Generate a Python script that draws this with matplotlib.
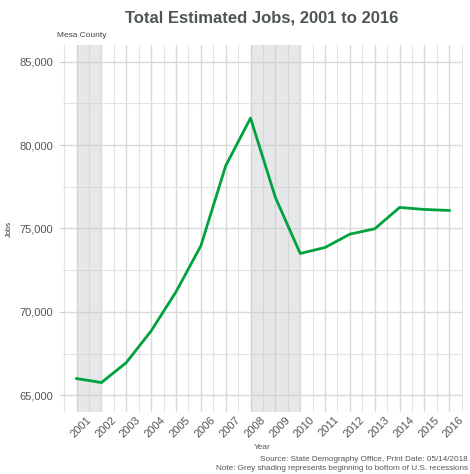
import numpy as np
import matplotlib
matplotlib.use('Agg')
from matplotlib import pyplot as plt
from matplotlib import transforms
from matplotlib.ticker import FuncFormatter, MultipleLocator

# 梅萨县总就业估计
years = [2001, 2002, 2003, 2004, 2005, 2006, 2007, 2008,
         2009, 2010, 2011, 2012, 2013, 2014, 2015, 2016]
jobs = [66000, 65760, 66960, 68860, 71200, 73960, 78760, 81620,
        76860, 73500, 73860, 74660, 74980, 76260, 76140, 76080]
recessions = [(2001, 2002), (2008, 2010)]

plt.rcParams['font.family'] = ['Liberation Sans', 'DejaVu Sans']

fig = plt.figure(figsize=(4.7, 4.74), dpi=100)
ax = fig.add_axes([0.134, 0.131, 0.851, 0.774])

for start, end in recessions:
    ax.axvspan(start, end, color='#c8cacd', alpha=0.45, lw=0, zorder=1)

ax.plot(years, jobs, color='#00a23e', lw=2.0, zorder=3)

ax.set_xlim(2000.45, 2016.55)
ax.set_ylim(64000, 86000)
ax.set_xticks(years)
ax.xaxis.set_minor_locator(MultipleLocator(0.5))
ax.yaxis.set_major_locator(MultipleLocator(5000))
ax.yaxis.set_minor_locator(MultipleLocator(2500))
ax.yaxis.set_major_formatter(FuncFormatter(lambda v, p: '{:,.0f}'.format(v)))

ax.grid(which='major', color='#d9d9d9', lw=1.0, zorder=0)
ax.grid(which='minor', color='#e3e3e3', lw=0.8, zorder=0)
ax.set_axisbelow(True)
for s in ax.spines.values():
    s.set_visible(False)

ax.tick_params(axis='y', which='major', colors='#d0d0d0', length=3, width=0.8,
               labelcolor='#555555', labelsize=8, pad=4)
ax.tick_params(axis='x', which='major', length=0, labelcolor='#555555',
               labelsize=8, pad=2)
ax.tick_params(which='minor', length=0)
# 标签稍微右移
shift = transforms.ScaledTranslation(3 / 72, 0, fig.dpi_scale_trans)
for lab in ax.get_xticklabels():
    lab.set_rotation(45)
    lab.set_ha('center')
    lab.set_va('top')
    lab.set_transform(lab.get_transform() + shift)

fig.text(0.021, 0.518, 'Jobs', rotation=90, ha='center', va='center',
         fontsize=5.5, color='#333333')
fig.text(0.558, 0.055, 'Year', ha='center', va='center',
         fontsize=6, color='#555555')

fig.text(0.557, 0.961, 'Total Estimated Jobs, 2001 to 2016', ha='center',
         va='center', fontsize=12, fontweight='bold', color='#4f5555')
fig.text(0.122, 0.926, 'Mesa County', ha='left', va='center',
         fontsize=6, color='#444444')
fig.text(0.995, 0.030, 'Source: State Demography Office, Print Date: 05/14/2018',
         ha='right', va='center', fontsize=5.9, color='#555555')
fig.text(0.995, 0.011, 'Note: Grey shading represents beginning to bottom of U.S. recessions',
         ha='right', va='center', fontsize=5.9, color='#555555')

plt.savefig('out.png', dpi=100)
